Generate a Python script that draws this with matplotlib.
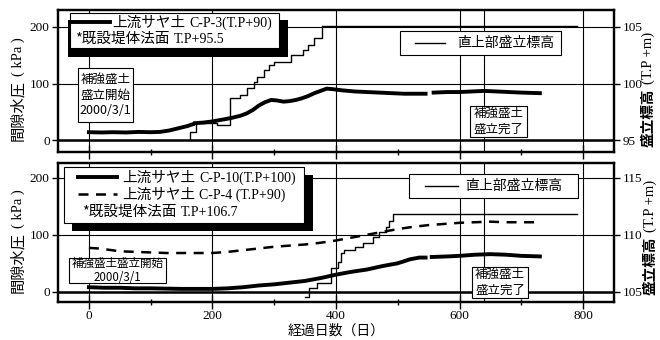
import numpy as np
import matplotlib
matplotlib.use('Agg')
import matplotlib.pyplot as plt
from matplotlib.patches import Rectangle

JP = ['Noto Sans CJK JP', 'DejaVu Sans']
SERIF = ['Liberation Serif', 'DejaVu Serif']
plt.rcParams['font.family'] = JP

nan = np.nan

# upper panel: C-P-3 pore pressure (kPa), fill elevation (T.P+m)
cp3_day = [0, 20, 40, 60, 80, 100, 115, 130, 145, 160, 168, nan,
           172, 185, 200, 215, 230, 245, 255, 265, 275, 285, 295,
           305, 315, 325, 335, 345, 355, 365, 375, 385, 395,
           410, 430, 450, 470, 490, 510, 530, 545, nan,
           558, 580, 600, 620, 640, 660, 680, 700, 730]
cp3_kpa = [14, 13.5, 14, 13.5, 14.5, 14, 14.5, 17, 21, 25, 28, nan,
           30, 31, 33, 36, 39, 43, 47, 53, 61, 67, 71,
           70, 68, 69, 71, 74, 78, 83, 87, 91, 90,
           88, 86, 85, 84, 83, 82, 82, 82, nan,
           84, 85, 85, 86, 87, 86, 85, 84, 83]
top_fill_day = [163, 163, 174, 208, 229, 245, 256, 267, 272, 283, 291,
                299, 327, 346, 354, 365, 378, 790]
top_fill_elev = [95.0, 95.7, 96.5, 96.3, 98.7, 99.0, 99.6, 100.1, 100.6,
                 101.2, 101.6, 101.9, 102.5, 103.0, 103.4, 104.0, 105.05, 105.05]

# lower panel: C-P-10 and C-P-4 pore pressure (kPa), fill elevation (T.P+m)
cp10_day = [0, 25, 50, 75, 100, 125, 150, 175, 200, 225,
            250, 275, 300, 325, 350, 375, 400, 425, 450, 475,
            500, 520, 535, 545, nan,
            555, 580, 600, 625, 650, 675, 700, 730]
cp10_kpa = [8, 7, 7, 6, 6, 5.5, 5, 5, 5, 6,
            8, 11, 13, 16, 19, 24, 30, 35, 39, 45,
            50, 57, 60, 60, nan,
            61, 62, 63, 65, 66, 65, 63, 62]
cp4_day = [0, 15, 30, 50, 75, 100, 125, 150, 175, 200,
           225, 250, 275, 300, 325, 350, 375, 400, 425, 450,
           475, 500, 525, 550, 575, 600, 625, 650, 675, 700, 730]
cp4_kpa = [77, 76, 74, 71, 70, 69, 68, 68, 68, 68,
           70, 73, 76, 79, 81, 83, 86, 90, 95, 100,
           105, 110, 114, 117, 119, 121, 122, 123, 122, 122, 122]
bot_fill_day = [350, 356, 370, 392, 403, 408, 413, 430, 444, 460, 470,
                481, 486, 492, 790]
bot_fill_elev = [104.5, 105.35, 105.8, 107.1, 107.6, 108.4, 108.7, 108.9,
                 109.3, 109.8, 110.25, 110.7, 111.2, 111.85, 111.85]

day_ticks = [0, 200, 400, 600, 800]
minor_days = [100, 300, 500, 700]
kpa_ticks = [0, 100, 200]
finish_day = 640

W, H = 660, 340
fig = plt.figure(figsize=(W / 100, H / 100), dpi=100)


def frame(l, t, r, b):
    return [l / W, 1 - b / H, (r - l) / W, (b - t) / H]


def setup(ax, ylim, elev_lim, elev_ticks, xlabels):
    ax.set_xlim(-50, 850)
    ax.set_ylim(ylim)
    ax.set_xticks(day_ticks)
    ax.set_xticks(minor_days, minor=True)
    ax.set_yticks(kpa_ticks)
    ax.grid(True, which='major', color='black', lw=0.8)
    ax.axhline(0, color='black', lw=1.8)
    ax.axvline(finish_day, color='black', lw=0.8)
    ax.tick_params(axis='x', which='major', direction='inout', length=10,
                   width=1, labelbottom=xlabels, pad=1)
    ax.tick_params(axis='x', which='minor', direction='inout', length=5, width=1)
    ax.tick_params(axis='y', direction='out', length=4, width=1, pad=2)
    ax.tick_params(labelsize=9.5, labelfontfamily='Liberation Serif')
    tw = ax.twinx()
    tw.set_ylim(elev_lim)
    tw.set_yticks(elev_ticks)
    tw.tick_params(axis='y', direction='out', length=4, width=1, pad=2,
                   labelsize=9.5, labelfontfamily='Liberation Serif')
    for a in (ax, tw):
        for s in a.spines.values():
            s.set_linewidth(1.6)
    return tw


ax_top = fig.add_axes(frame(58, 10, 614, 152))
ax_bot = fig.add_axes(frame(58, 163, 614, 302))
tw_top = setup(ax_top, (-21, 230), (95 - 21 / 20, 95 + 230 / 20), [95, 100, 105], False)
tw_bot = setup(ax_bot, (-18, 226), (105 - 18 / 20, 105 + 226 / 20), [105, 110, 115], True)

ax_top.plot(cp3_day, cp3_kpa, color='black', lw=2.8)
tw_top.step(top_fill_day, top_fill_elev, where='post', color='black', lw=1)

ax_bot.plot(cp4_day, cp4_kpa, color='black', lw=1.8, dashes=(4, 3))
ax_bot.plot(cp10_day, cp10_kpa, color='black', lw=2.8)
tw_bot.step(bot_fill_day, bot_fill_elev, where='post', color='black', lw=1)

# overlay in pixel units for legends, notes and axis titles
ov = fig.add_axes([0, 0, 1, 1], zorder=10)
ov.set_xlim(0, W)
ov.set_ylim(H, 0)
ov.axis('off')


def box(l, t, r, b, shadow=None):
    if shadow:
        sl, st, sr, sb = shadow
        ov.add_patch(Rectangle((sl, st), sr - sl, sb - st, facecolor='black', edgecolor='none'))
    ov.add_patch(Rectangle((l, t), r - l, b - t, facecolor='white', edgecolor='black', lw=0.8))


def jp_latin(x, y, jp, latin, jsize=10.5, lsize=10):
    t = ov.text(x, y + 5, jp, fontsize=jsize, va='baseline', ha='left', family=JP)
    ov.annotate(latin, xy=(1, y + 5), xycoords=(t, 'data'), xytext=(3, 0),
                textcoords='offset points', va='baseline', ha='left',
                fontsize=lsize, family=SERIF)


def vlabel(x, y_bottom, jp, latin, jsize, lsize, bold=False):
    t = ov.text(x, y_bottom, jp, rotation=90, ha='center', va='bottom',
                fontsize=jsize, family=JP, fontweight='bold' if bold else 'normal')
    ov.annotate(latin, xy=(0.5, 1), xycoords=t, xytext=(0, 3),
                textcoords='offset points', rotation=90, ha='center',
                va='bottom', fontsize=lsize, family=SERIF)


# upper legends
box(70, 13, 279, 48, shadow=(68, 20, 288, 57))
ov.plot([72, 110], [22, 22], color='black', lw=2.8)
jp_latin(112, 22, '上流サヤ土', 'C-P-3(T.P+90)')
jp_latin(75, 38, '*既設堤体法面', 'T.P+95.5')
box(400, 31, 561, 55)
ov.plot([415, 445], [43, 43], color='black', lw=1)
ov.text(457, 43, '直上部盛立標高', fontsize=10, va='center', ha='left')

# lower legends
box(64, 167, 304, 223, shadow=(72, 175, 313, 231))
ov.plot([78, 117], [177, 177], color='black', lw=2.8)
jp_latin(122, 177, '上流サヤ土', 'C-P-10(T.P+100)')
ov.plot([78, 117], [194, 194], color='black', lw=1.8, dashes=(4, 3))
jp_latin(122, 194, '上流サヤ土', 'C-P-4 (T.P+90)')
jp_latin(82, 211, '*既設堤体法面', 'T.P+106.7')
box(409, 174, 578, 198)
ov.plot([425, 458], [186, 186], color='black', lw=1)
ov.text(465, 186, '直上部盛立標高', fontsize=10, va='center', ha='left')

# construction notes
box(78, 68, 133, 122)
ov.text(105.5, 95, '補強盛土\n盛立開始\n2000/3/1', fontsize=9, ha='center',
        va='center', linespacing=1.25)
box(470, 106, 527, 137)
ov.text(498.5, 121.5, '補強盛土\n盛立完了', fontsize=9, ha='center',
        va='center', linespacing=1.25)
box(69, 258, 166, 283)
ov.text(117.5, 270.5, '補強盛土盛立開始\n2000/3/1', fontsize=8.3, ha='center',
        va='center', linespacing=1.1)
box(472, 267, 528, 298)
ov.text(500, 282.5, '補強盛土\n盛立完了', fontsize=9, ha='center',
        va='center', linespacing=1.25)

# axis titles
vlabel(18, 141, '間隙水圧', '( kPa )', 11, 10.5)
vlabel(18, 293, '間隙水圧', '( kPa )', 11, 10.5)
vlabel(648, 147, '盛立標高', '(T.P +m)', 10.5, 10.5, bold=True)
vlabel(650, 295, '盛立標高', '(T.P +m)', 10.5, 10.5, bold=True)
ov.text(336, 331, '経過日数（日）', fontsize=10, ha='center', va='center')

fig.savefig('out.png', dpi=100)
